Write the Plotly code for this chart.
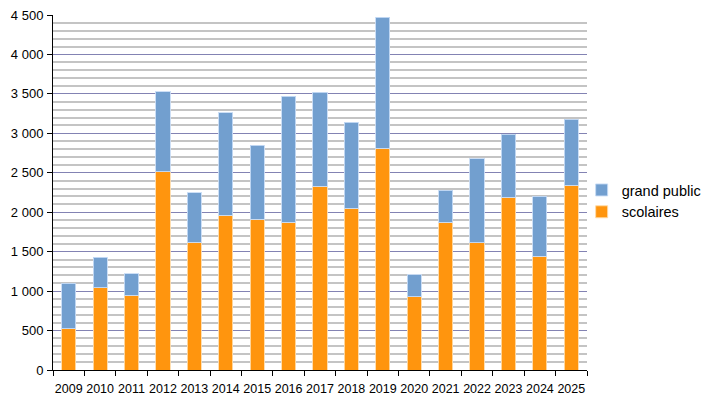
import plotly.graph_objects as go

years = ["2009", "2010", "2011", "2012", "2013", "2014", "2015", "2016", "2017",
         "2018", "2019", "2020", "2021", "2022", "2023", "2024", "2025"]
totals = [1100, 1430, 1220, 3530, 2250, 3260, 2850, 3470, 3520,
          3140, 4470, 1210, 2280, 2680, 2990, 2200, 3180]
scolaires = [520, 1040, 950, 2510, 1620, 1960, 1910, 1870, 2330,
             2050, 2810, 930, 1870, 1610, 2190, 1440, 2340]
grand_public = [t - s for t, s in zip(totals, scolaires)]

FONT = "Liberation Sans, Arial, sans-serif"

fig = go.Figure()
fig.add_trace(go.Bar(
    x=years, y=scolaires, name="scolaires",
    marker=dict(color="#ff950e", line=dict(color="rgba(255,220,170,0.9)", width=1)),
))
fig.add_trace(go.Bar(
    x=years, y=grand_public, name="grand public",
    marker=dict(color="#729fcf", line=dict(color="rgba(200,220,245,0.9)", width=1)),
))

fig.update_layout(
    width=707, height=407,
    margin=dict(l=45, r=128, t=7, b=45, autoexpand=False),
    barmode="stack",
    bargap=0.55,
    paper_bgcolor="white",
    plot_bgcolor="white",
    separators=", ",
    font=dict(family=FONT, size=13, color="#000000"),
    legend=dict(
        x=0.99, xanchor="left", y=0.476, yanchor="middle",
        traceorder="reversed",
        font=dict(family=FONT, size=14.5, color="#000000"),
        bgcolor="rgba(0,0,0,0)",
        tracegroupgap=0,
    ),
    xaxis=dict(
        type="category",
        range=[-0.5, 16.5],
        automargin=False,
        tickangle=0,
        showline=True, linecolor="#000000", linewidth=1,
        ticks="outside", tickson="boundaries", ticklen=5, tickcolor="#000000",
        ticklabelstandoff=7,
        ticklabeloverflow="allow",
        showgrid=False,
        tickfont=dict(family=FONT, size=12.5, color="#000000"),
    ),
    yaxis=dict(
        range=[0, 4500],
        dtick=500,
        tickformat=",",
        automargin=False,
        showline=True, linecolor="#000000", linewidth=1,
        ticks="outside", ticklen=5, tickcolor="#000000",
        ticklabelstandoff=1,
        ticklabeloverflow="allow",
        showgrid=True, gridcolor="#8383b3", gridwidth=1,
        zeroline=False,
        minor=dict(dtick=100, showgrid=True, gridcolor="#c4c4c4", gridwidth=1.5, ticks=""),
        tickfont=dict(family=FONT, size=13, color="#000000"),
    ),
)

fig.write_html("out.html")
